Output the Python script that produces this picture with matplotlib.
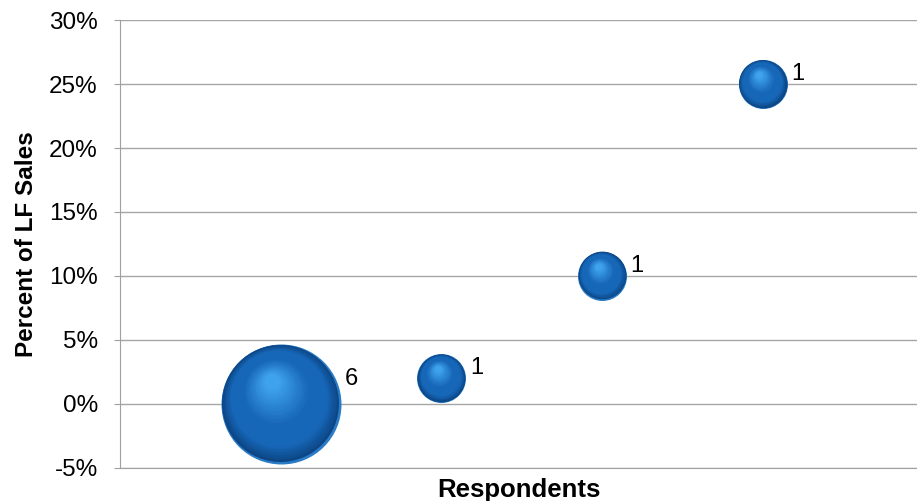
import numpy as np
import matplotlib.pyplot as plt
from matplotlib.colors import to_rgb
from matplotlib.transforms import ScaledTranslation

plt.rcParams['font.family'] = ['Liberation Sans', 'DejaVu Sans']

# data
positions = [1, 2, 3, 4]
pct_sales = [0.0, 2.0, 10.0, 25.0]
respondents = [6, 1, 1, 1]
yticks = [-5, 0, 5, 10, 15, 20, 25, 30]
ytick_labels = ['-5%', '0%', '5%', '10%', '15%', '20%', '25%', '30%']

fig = plt.figure(figsize=(9.17, 5.01), dpi=100)
ax = fig.add_axes([0.1309, 0.066, 0.8691, 0.894])

ax.set_xlim(0, 4.96)
ax.set_ylim(-5, 30)
ax.set_yticks(yticks)
ax.set_yticklabels(ytick_labels, fontsize=17.5)
ax.set_xticks([])
ax.tick_params(axis='y', length=4, color='#a0a0a0', pad=12)
ax.yaxis.grid(True, color='#a6a6a6', linewidth=1)
ax.set_axisbelow(True)
for side in ['top', 'right']:
    ax.spines[side].set_visible(False)
for side in ['left', 'bottom']:
    ax.spines[side].set_color('#a0a0a0')
ax.set_ylabel('Percent of LF Sales', fontsize=17.5, fontweight='bold', labelpad=8)
ax.set_xlabel('Respondents', fontsize=18.5, fontweight='bold', labelpad=7)

# bubble area per respondent (points^2)
unit = 1244.0

rim = np.array(to_rgb('#2a7cc6'))
dark = np.array(to_rgb('#0c4686'))
mid = np.array(to_rgb('#1767b8'))
light = np.array(to_rgb('#3fa2ec'))


def shade(t):
    if t < 0.2:
        return dark + (mid - dark) * (t / 0.2)
    if t < 0.5:
        return mid
    return mid + (light - mid) * ((t - 0.5) / 0.5)


n_layers = 45
for x, y, n in zip(positions, pct_sales, respondents):
    s = unit * n
    r = np.sqrt(s) / 2.0  # radius in points
    ax.scatter([x], [y], s=s, color=rim, linewidths=0, zorder=3)
    for i, t in enumerate(np.linspace(0, 1, n_layers)):
        rr = r * (0.975 - 0.85 * t)
        dx = -0.14 * r * t - 0.01 * r
        dy = 0.36 * r * t + 0.02 * r
        tr = ax.transData + ScaledTranslation(dx / 72, dy / 72, fig.dpi_scale_trans)
        ax.scatter([x], [y], s=(2 * rr) ** 2, color=shade(t), linewidths=0,
                   transform=tr, zorder=4 + i * 0.01)
    ax.annotate(str(n), (x, y), xytext=(r + 3, 0.42 * r), textcoords='offset points',
                fontsize=17, ha='left', va='center', zorder=10)

fig.savefig('out.png', dpi=100)
